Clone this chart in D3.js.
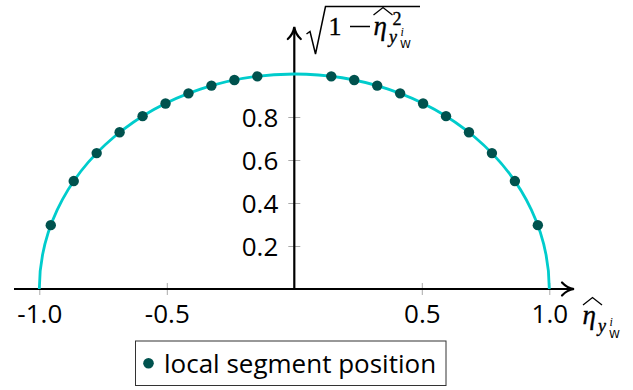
<!DOCTYPE html>
<html>
<head>
<meta charset="utf-8">
<script src="https://cdn.jsdelivr.net/npm/d3@7"></script>
<style>
  html, body { margin: 0; padding: 0; background: #fff; }
  svg { display: block; }
  .math { stroke: #000; stroke-width: 0.35px; }
</style>
</head>
<body>
<svg id="chart" width="633" height="390"></svg>
<script>
// Local segment positions (eta-hat) and their heights sqrt(1 - eta-hat^2)
const segX = [-0.955, -0.865, -0.775, -0.685, -0.595, -0.505, -0.415, -0.325, -0.235, -0.145,
               0.145,  0.235,  0.325,  0.415,  0.505,  0.595,  0.685,  0.775,  0.865,  0.955];
const segY = [0.297, 0.502, 0.632, 0.729, 0.804, 0.863, 0.910, 0.946, 0.972, 0.989,
              0.989, 0.972, 0.946, 0.910, 0.863, 0.804, 0.729, 0.632, 0.502, 0.297];

const xTickValues = [-1.0, -0.5, 0.5, 1.0];
const xTickLabels = ["-1.0", "-0.5", "0.5", "1.0"];
const yTickValues = [0.2, 0.4, 0.6, 0.8];
const yTickLabels = ["0.2", "0.4", "0.6", "0.8"];
const legendLabel = "local segment position";

const curveColor = "#00cccc";
const pointColor = "#00524e";
const tickFont = "'Open Sans', 'Noto Sans', sans-serif";
const mathFont = "'Liberation Serif', 'DejaVu Serif', serif";
const sansSmall = "'DejaVu Sans', 'Open Sans', sans-serif";

const svg = d3.select("#chart");

const x = d3.scaleLinear().domain([-1, 1]).range([39.3, 549.3]);
const y = d3.scaleLinear().domain([0, 1]).range([289, 74]);

const x0 = x(0), y0 = y(0);

// Axes with ticks crossing the axis line
const xAxis = d3.axisBottom(x).tickValues(xTickValues)
  .tickFormat((d, i) => xTickLabels[i]).tickSize(0);
const gx = svg.append("g").attr("transform", `translate(0,${y0})`).call(xAxis);
gx.select(".domain").remove();
gx.selectAll(".tick line").attr("y1", -6).attr("y2", 6)
  .attr("stroke", "#aaa").attr("stroke-width", 1);
gx.selectAll(".tick text").attr("y", 34).attr("dy", null)
  .attr("font-family", tickFont).attr("font-size", 26).attr("fill", "#000");

const yAxis = d3.axisLeft(y).tickValues(yTickValues)
  .tickFormat((d, i) => yTickLabels[i]).tickSize(0);
const gy = svg.append("g").attr("transform", `translate(${x0},0)`).call(yAxis);
gy.select(".domain").remove();
gy.selectAll(".tick line").attr("x1", -6).attr("x2", 6)
  .attr("stroke", "#aaa").attr("stroke-width", 1);
gy.selectAll(".tick text").attr("x", -16).attr("dy", "0.38em")
  .attr("font-family", tickFont).attr("font-size", 26).attr("fill", "#000");

// Main axis lines with arrow heads
const axisG = svg.append("g").attr("stroke", "#000").attr("fill", "none");
axisG.append("line").attr("x1", 14).attr("x2", 573).attr("y1", y0).attr("y2", y0).attr("stroke-width", 2.2);
axisG.append("line").attr("x1", x0).attr("x2", x0).attr("y1", y0).attr("y2", 29).attr("stroke-width", 2.2);
axisG.append("path")
  .attr("d", `M562,${y0 - 6.5} Q567,${y0 - 1} 574,${y0} Q567,${y0 + 1} 562,${y0 + 6.5}`)
  .attr("stroke-width", 2.2).attr("stroke-linecap", "round");
axisG.append("path")
  .attr("d", `M${x0 - 6.5},39 Q${x0 - 1},34 ${x0},27 Q${x0 + 1},34 ${x0 + 6.5},39`)
  .attr("stroke-width", 2.2).attr("stroke-linecap", "round");

// Semicircle curve sqrt(1 - eta^2): an elliptic arc spanning the scales
const rx = x(1) - x(0), ry = y(0) - y(1);
svg.append("path")
  .attr("d", `M${x(-1)},${y(0)} A${rx},${ry} 0 0 1 ${x(1)},${y(0)}`)
  .attr("fill", "none").attr("stroke", curveColor).attr("stroke-width", 2.8);

// Segment points
svg.append("g").selectAll("circle")
  .data(segX.map((v, i) => [v, segY[i]]))
  .join("circle")
  .attr("cx", d => x(d[0])).attr("cy", d => y(d[1])).attr("r", 5.2)
  .attr("fill", pointColor);

// Y axis label: sqrt(1 - eta-hat^2_{y^i_W})
const yl = svg.append("g");
yl.append("path")
  .attr("d", "M306.5,34 L310,31.5 L315.5,54 L325.5,6.6 L420,6.6")
  .attr("fill", "none").attr("stroke", "#000").attr("stroke-width", 1.5)
  .attr("stroke-linejoin", "miter");
yl.append("text").attr("class", "math").attr("x", 328.5).attr("y", 35).attr("font-family", mathFont)
  .attr("font-size", 26).text("1");
yl.append("line").attr("x1", 350).attr("x2", 370).attr("y1", 26.5).attr("y2", 26.5)
  .attr("stroke", "#000").attr("stroke-width", 1.5);
yl.append("text").attr("class", "math").attr("x", 373.5).attr("y", 35).attr("font-family", mathFont)
  .attr("font-style", "italic").attr("font-size", 27).text("\u03b7");
yl.append("path").attr("d", "M373.5,15 L383,7.5 L392.5,15")
  .attr("fill", "none").attr("stroke", "#000").attr("stroke-width", 1.3);
yl.append("text").attr("class", "math").attr("x", 392.5).attr("y", 25).attr("font-family", mathFont)
  .attr("font-size", 18).text("2");
yl.append("text").attr("class", "math").attr("x", 389).attr("y", 42.5).attr("font-family", mathFont)
  .attr("font-style", "italic").attr("font-size", 18).text("y");
yl.append("text").attr("x", 400.5).attr("y", 36).attr("font-family", mathFont)
  .attr("font-style", "italic").attr("font-size", 12).text("i");
yl.append("text").attr("x", 400).attr("y", 48).attr("font-family", sansSmall)
  .attr("font-size", 11).text("W");

// X axis label: eta-hat_{y^i_W}
const xl = svg.append("g");
xl.append("text").attr("class", "math").attr("x", 582.5).attr("y", 324).attr("font-family", mathFont)
  .attr("font-style", "italic").attr("font-size", 27).text("\u03b7");
xl.append("path").attr("d", "M583,305 L592.5,297.5 L602,305")
  .attr("fill", "none").attr("stroke", "#000").attr("stroke-width", 1.3);
xl.append("text").attr("class", "math").attr("x", 598).attr("y", 332).attr("font-family", mathFont)
  .attr("font-style", "italic").attr("font-size", 18).text("y");
xl.append("text").attr("x", 609.5).attr("y", 325.5).attr("font-family", mathFont)
  .attr("font-style", "italic").attr("font-size", 12).text("i");
xl.append("text").attr("x", 609).attr("y", 338).attr("font-family", sansSmall)
  .attr("font-size", 11).text("W");

// Legend
const lg = svg.append("g");
lg.append("rect").attr("x", 135.5).attr("y", 341).attr("width", 310.5).attr("height", 44.5)
  .attr("fill", "#fff").attr("stroke", "#333").attr("stroke-width", 1);
lg.append("circle").attr("cx", 148.5).attr("cy", 363.3).attr("r", 5.3).attr("fill", pointColor);
lg.append("text").attr("x", 164).attr("y", 373).attr("font-family", tickFont)
  .attr("font-size", 26).attr("fill", "#000").text(legendLabel);
</script>
</body>
</html>
